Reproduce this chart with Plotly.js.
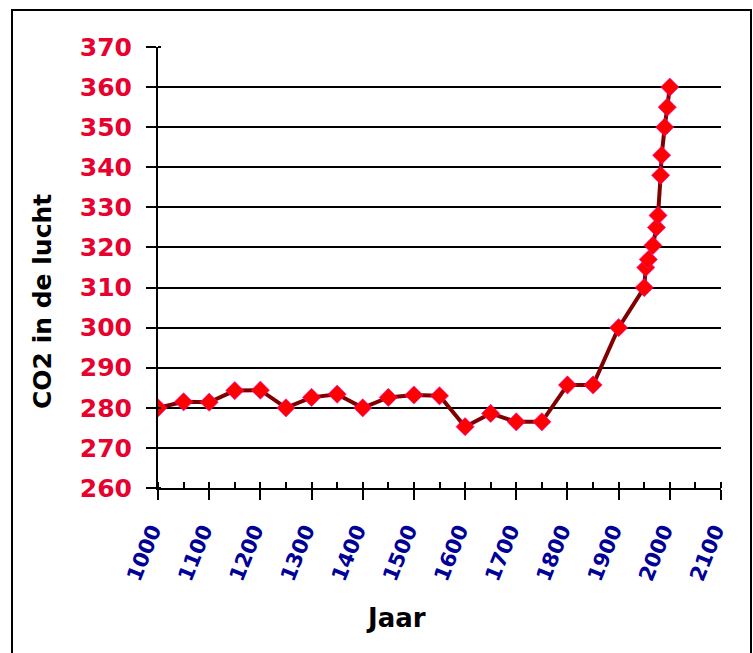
<!DOCTYPE html>
<html>
<head>
<meta charset="utf-8">
<script src="https://cdn.plot.ly/plotly-3.0.1.min.js"></script>
<style>
html,body{margin:0;padding:0;background:#fff;}
#wrap{position:relative;width:753px;height:653px;}
#chart{position:absolute;left:0;top:0;width:753px;height:653px;}
#frame{position:absolute;left:11px;top:9px;width:737px;height:660px;border:2px solid #000;pointer-events:none;}
</style>
</head>
<body>
<div id="wrap"><div id="chart"></div><div id="frame"></div></div>
<script>
const years = [1000,1050,1100,1150,1200,1250,1300,1350,1400,1450,1500,1550,1600,1650,1700,1750,1800,1850,1900,1950,1953,1958,1967,1974,1977,1982,1984,1990,1995,2000];
const co2 = [280,281.5,281.4,284.3,284.4,280,282.6,283.4,280,282.6,283.2,283,275.3,278.6,276.5,276.5,285.7,285.7,300,310,315,317,320.5,325,328,338,343,350,355,360];
const xTickVals = [1000,1050,1100,1150,1200,1250,1300,1350,1400,1450,1500,1550,1600,1650,1700,1750,1800,1850,1900,1950,2000,2050,2100];
const xTickText = ["1000","","1100","","1200","","1300","","1400","","1500","","1600","","1700","","1800","","1900","","2000","","2100"];
const yTickVals = [260,270,280,290,300,310,320,330,340,350,360,370];
const xTitle = 'Jaar';
const yTitle = 'CO2 in de lucht';

const trace = {
  x: years, y: co2, type: 'scatter', mode: 'lines+markers',
  line: {color: '#800000', width: 4},
  marker: {symbol: 'diamond', size: 14, color: '#ff0000', line: {color: 'rgba(255,0,200,0.6)', width: 1}},
  hoverinfo: 'x+y'
};

const layout = {
  width: 753, height: 653,
  margin: {l: 158, r: 32, t: 47, b: 165},
  paper_bgcolor: '#fff', plot_bgcolor: '#fff',
  showlegend: false,
  xaxis: {
    range: [1000, 2100], tickmode: 'array', tickvals: xTickVals, ticktext: xTickText,
    tickangle: -68, ticks: 'outside', ticklen: 10, tickwidth: 2, tickcolor: '#000',
    minor: {tickmode: 'array', tickvals: xTickVals, ticks: 'inside', ticklen: 6, tickwidth: 2, tickcolor: '#000', showgrid: false},
    showline: true, linecolor: '#000', linewidth: 2, showgrid: false, zeroline: false,
    tickfont: {family: 'DejaVu Sans', size: 21, color: '#000099', weight: 'bold'},
    ticklabelstandoff: 10, ticklabelshift: -6
  },
  yaxis: {
    range: [260, 370], tickmode: 'array', tickvals: yTickVals,
    ticks: 'outside', ticklen: 10, tickwidth: 2, tickcolor: '#000',
    minor: {tickmode: 'linear', dtick: 10, tick0: 260, ticks: 'inside', ticklen: 3, tickwidth: 2, tickcolor: '#000', showgrid: false},
    showline: true, linecolor: '#000', linewidth: 2,
    showgrid: true, gridcolor: '#000', gridwidth: 2, zeroline: false,
    tickfont: {family: 'DejaVu Sans', size: 25, color: '#e8002e', weight: 'bold'},
    ticklabelstandoff: 9
  },
  annotations: [
    {text: yTitle, xref: 'paper', yref: 'paper', x: -0.205, y: 0.423, textangle: -90, showarrow: false,
     xanchor: 'center', yanchor: 'middle', font: {family: 'DejaVu Sans', size: 25, color: '#000', weight: 'bold'}},
    {text: xTitle, xref: 'paper', yref: 'paper', x: 0.4235, y: -0.295, showarrow: false,
     xanchor: 'center', yanchor: 'middle', font: {family: 'DejaVu Sans', size: 26, color: '#000', weight: 'bold'}}
  ]
};

Plotly.newPlot('chart', [trace], layout, {displayModeBar: false});
</script>
</body>
</html>
